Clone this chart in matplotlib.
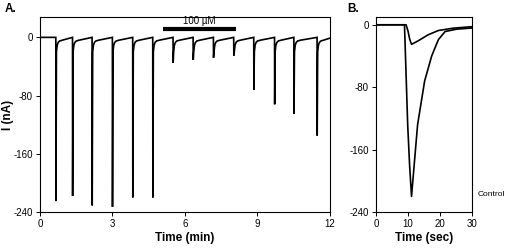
import numpy as np
import matplotlib
matplotlib.use("Agg")
import matplotlib.pyplot as plt
from matplotlib import font_manager

names = {f.name for f in font_manager.fontManager.ttflist}
fam = ["Liberation Sans Narrow"] if "Liberation Sans Narrow" in names else ["Liberation Sans"]
plt.rcParams["font.family"] = fam + ["DejaVu Sans"]
plt.rcParams["axes.unicode_minus"] = False

# ---- Panel A data ----
a_pulse_time = [0.66, 1.35, 2.16, 3.00, 3.84, 4.67, 5.51, 6.34, 7.18, 8.02, 8.85, 9.71, 10.51, 11.47]
a_pulse_peak = [-225, -218, -231, -233, -220, -220, -35, -31, -28, -25, -72, -92, -105, -135]
a_recovery_dt = [0.02, 0.05, 0.09, 0.15, 0.25]
a_recovery_val = [-20, -11, -7, -5, -4]
a_xticks = [0, 3, 6, 9, 12]
a_yticks = [0, -80, -160, -240]
drug_bar = (5.08, 8.13)
drug_label = "100 µM"

# ---- Panel B data ----
b_ctrl_t = [0, 8.9, 9.4, 9.9, 10.5, 11.1, 13.0, 15.2, 17.4, 19.5, 21.6, 25.2, 29.4, 30]
b_ctrl_i = [0, 0, -64, -128, -180, -220, -128, -72, -40, -19, -8.6, -5.6, -4.3, -4.2]
b_drug_t = [0, 9.4, 10.0, 10.5, 11.1, 11.6, 13.2, 16.3, 19.5, 24.2, 29.4, 30]
b_drug_i = [0, 0, -8, -18, -25, -24, -20.5, -12.8, -7.3, -4.3, -2.6, -2.5]
b_xticks = [0, 10, 20, 30]
b_yticks = [0, -80, -160, -240]

# build trace A from pulses
t = [0.0]
v = [0.0]
for k, (t0, pk) in enumerate(zip(a_pulse_time, a_pulse_peak)):
    t += [t0 - 0.005, t0]
    v += [0.0, pk]
    for dt, rv in zip(a_recovery_dt, a_recovery_val):
        t.append(t0 + dt)
        v.append(max(rv, pk))
t += [12.0]
v += [-1.0]

fig = plt.figure(figsize=(5.05, 2.5), dpi=100)
axA = fig.add_axes([40/505, 38/250, 290/505, 195/250])
axB = fig.add_axes([376/505, 38/250, 96/505, 195/250])

lw = 1.2
axA.plot(t, v, color="black", lw=lw, solid_joinstyle="miter")
axA.set_xlim(0, 12)
axA.set_ylim(-240, 28)
axA.set_xticks(a_xticks)
axA.set_yticks(a_yticks)
axA.plot(drug_bar, [11, 11], color="black", lw=3, solid_capstyle="butt")
axA.text(sum(drug_bar)/2, 23, drug_label, ha="center", va="center", fontsize=7)
axA.set_xlabel("Time (min)", fontsize=8.5, fontweight="bold", labelpad=2)
axA.set_ylabel("I (nA)", fontsize=8.5, fontweight="bold", ha="center", va="center")
axA.yaxis.set_label_coords(-32/290, 0.5)

axB.plot(b_ctrl_t, b_ctrl_i, color="black", lw=lw)
axB.plot(b_drug_t, b_drug_i, color="black", lw=lw)
axB.set_xlim(0, 30)
axB.set_ylim(-240, 10)
axB.set_xticks(b_xticks)
axB.set_yticks(b_yticks)
axB.set_xlabel("Time (sec)", fontsize=8.5, fontweight="bold", labelpad=2)
axB.text(31.8, -217, "Control", fontsize=6, ha="left", va="center", clip_on=False)

for ax in (axA, axB):
    ax.tick_params(direction="out", length=3, width=0.7, labelsize=7, pad=2)
    for s in ax.spines.values():
        s.set_linewidth(0.8)

fig.text(5/505, 1 - 9/250, "A.", fontsize=8.5, fontweight="bold", va="center", ha="left")
fig.text(347/505, 1 - 9/250, "B.", fontsize=8.5, fontweight="bold", va="center", ha="left")

fig.savefig("out.png", dpi=100)
